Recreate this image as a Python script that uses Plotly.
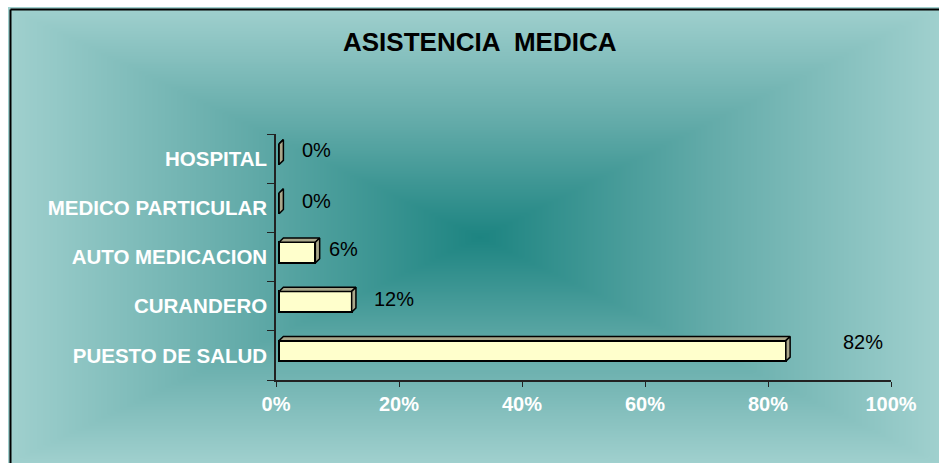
import numpy as np
import plotly.graph_objects as go

# data
categories = ["PUESTO DE SALUD", "CURANDERO", "AUTO MEDICACION", "MEDICO PARTICULAR", "HOSPITAL"]
percent = [82.4, 11.8, 5.9, 0.0, 0.0]
x_ticks = [0, 20, 40, 60, 80, 100]
x_ticktext = ["0%", "20%", "40%", "60%", "80%", "100%"]
title = "ASISTENCIA  MEDICA"

W, H = 939, 463
FONT = "Liberation Sans, Arial, sans-serif"

# background: rectangular gradient from centre (excel style)
cx, cy = 480, 237
gx = np.linspace(8, W, 240)
gy = np.linspace(7, H, 120)
GX, GY = np.meshgrid(gx, gy)
ax = np.where(GX < cx, cx - 8, W - cx)
ay = np.where(GY < cy, cy - 7, H - cy)
Z = np.maximum(np.abs(GX - cx) / ax, np.abs(GY - cy) / ay)

fig = go.Figure()
fig.add_trace(go.Heatmap(
    z=Z, x=gx, y=gy, colorscale=[[0, "#1d8481"], [0.5, "#63aba9"], [1, "#a0d0ce"]],
    showscale=False, zsmooth="best", hoverinfo="skip", xaxis="x", yaxis="y"))

# bars (front face), excel starts them a hair right of the axis
pos = list(range(len(categories)))
bw, boff, b0 = 0.42, -0.12, 0.5
fig.add_trace(go.Bar(
    x=percent, y=pos, orientation="h", base=b0, width=bw, offset=boff,
    marker=dict(color="#FFFFCC", line=dict(color="black", width=2)),
    xaxis="x2", yaxis="y2", hoverinfo="skip"))

# 3d faces
dx, dy = 0.7, 0.085
for i, v in zip(pos, percent):
    yb = i + boff
    yt = yb + bw
    end = b0 + v
    top_x = [b0, b0 + dx, end + dx, end, b0]
    top_y = [yt, yt + dy, yt + dy, yt, yt]
    side_x = [end, end + dx, end + dx, end, end]
    side_y = [yb, yb + dy, yt + dy, yt, yb]
    for fx, fy in ((top_x, top_y), (side_x, side_y)):
        fig.add_trace(go.Scatter(
            x=fx, y=fy, mode="lines", fill="toself", fillcolor="#aaa78b",
            line=dict(color="black", width=1.5), xaxis="x2", yaxis="y2",
            hoverinfo="skip", showlegend=False))

# value labels (excel puts them a bit off the bar ends)
shift_x = [55, 20, 12, 21, 21]
shift_y = [9, 3, 4, 2, 4]
for i, v in zip(pos, percent):
    fig.add_annotation(
        x=b0 + v, y=i + boff + bw / 2, xref="x2", yref="y2", text=f"{v:.0f}%",
        showarrow=False, xanchor="left", yanchor="middle",
        xshift=shift_x[i], yshift=shift_y[i],
        font=dict(family=FONT, size=20, color="black"))

fig.add_annotation(
    x=480 / W, y=1 - 42 / H, xref="paper", yref="paper", text=title,
    showarrow=False, xanchor="center", yanchor="middle",
    font=dict(family=FONT, size=26, color="black", weight="bold"))

# chart border (left + top)
fig.add_shape(type="line", xref="paper", yref="paper",
              x0=10.5 / W, x1=10.5 / W, y0=0, y1=1 - 9.5 / H,
              line=dict(color="black", width=2))
fig.add_shape(type="line", xref="paper", yref="paper",
              x0=10.5 / W, x1=1, y0=1 - 9.5 / H, y1=1 - 9.5 / H,
              line=dict(color="black", width=2))

fig.update_layout(
    width=W, height=H,
    margin=dict(l=0, r=0, t=0, b=0),
    paper_bgcolor="white", plot_bgcolor="rgba(0,0,0,0)",
    showlegend=False, bargap=0,
    xaxis=dict(domain=[8 / W, 1], range=[8, W], visible=False, anchor="y",
               fixedrange=True, automargin=False),
    yaxis=dict(domain=[0, 1 - 7 / H], range=[H, 7], visible=False, anchor="x",
               fixedrange=True, automargin=False),
    xaxis2=dict(
        domain=[276 / W, 891 / W], range=[0, 100], anchor="y2", automargin=False,
        tickvals=x_ticks, ticktext=x_ticktext, ticks="outside", ticklen=5,
        tickcolor="#222", showline=True, linecolor="#222", linewidth=1.5,
        showgrid=False, zeroline=False,
        tickfont=dict(family=FONT, size=20, color="white", weight="bold")),
    yaxis2=dict(
        domain=[(H - 380) / H, (H - 134) / H], range=[-0.5, 4.5], anchor="x2",
        automargin=False, ticklabelstandoff=3,
        tickvals=pos, ticktext=categories, ticks="", showline=True,
        linecolor="#222", linewidth=1.5, showgrid=False, zeroline=False,
        minor=dict(tick0=-0.5, dtick=1, ticks="outside", ticklen=7, tickcolor="#222"),
        tickfont=dict(family=FONT, size=20.5, color="white", weight="bold")),
)

fig.write_html("out.html", config={"displayModeBar": False},
               post_script="document.body.style.margin='0';document.body.style.overflow='hidden';")
